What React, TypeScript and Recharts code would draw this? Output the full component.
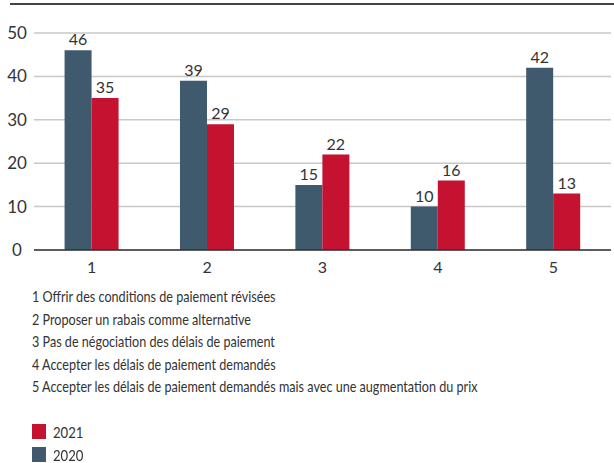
import { Bar, BarChart, CartesianGrid, LabelList, XAxis, YAxis } from "recharts";

const categories = ["1", "2", "3", "4", "5"];
const values2020 = [46, 39, 15, 10, 42];
const values2021 = [35, 29, 22, 16, 13];
const yTicks = [0, 10, 20, 30, 40, 50];
const notes = [
  "1 Offrir des conditions de paiement révisées",
  "2 Proposer un rabais comme alternative",
  "3 Pas de négociation des délais de paiement",
  "4 Accepter les délais de paiement demandés",
  "5 Accepter les délais de paiement demandés mais avec une augmentation du prix",
];
const legendItems = [
  { name: "2021", color: "#C41230" },
  { name: "2020", color: "#3F5A6C" },
];

const data = categories.map((c, i) => ({ name: c, y2020: values2020[i], y2021: values2021[i] }));

const FONT = 'Lato, "DejaVu Sans Condensed", sans-serif';
const TEXT = "#333";

function YTick(props: any) {
  const { y, payload } = props;
  return (
    <text x={17} y={y} dy={6} textAnchor="middle" fontSize={17} fill={TEXT} fontFamily={FONT}>
      {payload.value}
    </text>
  );
}

// value label above each bar, always in dark text
function BarLabel(props: any) {
  const { x, y, width, value } = props;
  return (
    <text x={x + width / 2} y={y - 5} textAnchor="middle" fontSize={16} fill={TEXT} fontFamily={FONT}>
      {value}
    </text>
  );
}

export default function App() {
  return (
    <div style={{ position: "fixed", left: 0, top: 0, width: 614, height: 463, background: "#fff", fontFamily: FONT, color: TEXT }}>
      <div style={{ position: "absolute", left: 10, top: 3, width: 604, borderTop: "2px solid #444" }} />
      <BarChart
        width={614}
        height={280}
        data={data}
        margin={{ top: 33, right: 3, left: 0, bottom: 0 }}
        barCategoryGap="26.5%"
        barGap={0}
      >
        <CartesianGrid vertical={false} stroke="#c8c8c8" strokeWidth={1.5} />
        <XAxis
          dataKey="name"
          axisLine={{ stroke: "#333", strokeWidth: 1.5 }}
          tickLine={false}
          tick={{ fontSize: 16, fill: TEXT, fontFamily: FONT }}
          tickMargin={6}
          height={30}
        />
        <YAxis
          domain={[0, 50]}
          ticks={yTicks}
          axisLine={false}
          tickLine={false}
          width={34}
          tick={<YTick />}
        />
        <Bar dataKey="y2020" fill="#3F5A6C" isAnimationActive={false}>
          <LabelList dataKey="y2020" content={<BarLabel />} />
        </Bar>
        <Bar dataKey="y2021" fill="#C41230" isAnimationActive={false}>
          <LabelList dataKey="y2021" content={<BarLabel />} />
        </Bar>
      </BarChart>
      <div style={{ position: "absolute", left: 32, top: 285, fontSize: 15, lineHeight: "22.5px", transform: "scaleX(0.84)", transformOrigin: "left top" }}>
        {notes.map((n) => (
          <div key={n} style={{ whiteSpace: "nowrap" }}>{n}</div>
        ))}
      </div>
      <div style={{ position: "absolute", left: 32, top: 420, fontSize: 16, lineHeight: "23px" }}>
        {legendItems.map((l) => (
          <div key={l.name} style={{ display: "flex", alignItems: "center" }}>
            <span style={{ width: 14, height: 15, background: l.color, display: "inline-block", marginRight: 7 }} />
            <span style={{ display: "inline-block", transform: "scaleX(0.82)", transformOrigin: "left center" }}>{l.name}</span>
          </div>
        ))}
      </div>
    </div>
  );
}
